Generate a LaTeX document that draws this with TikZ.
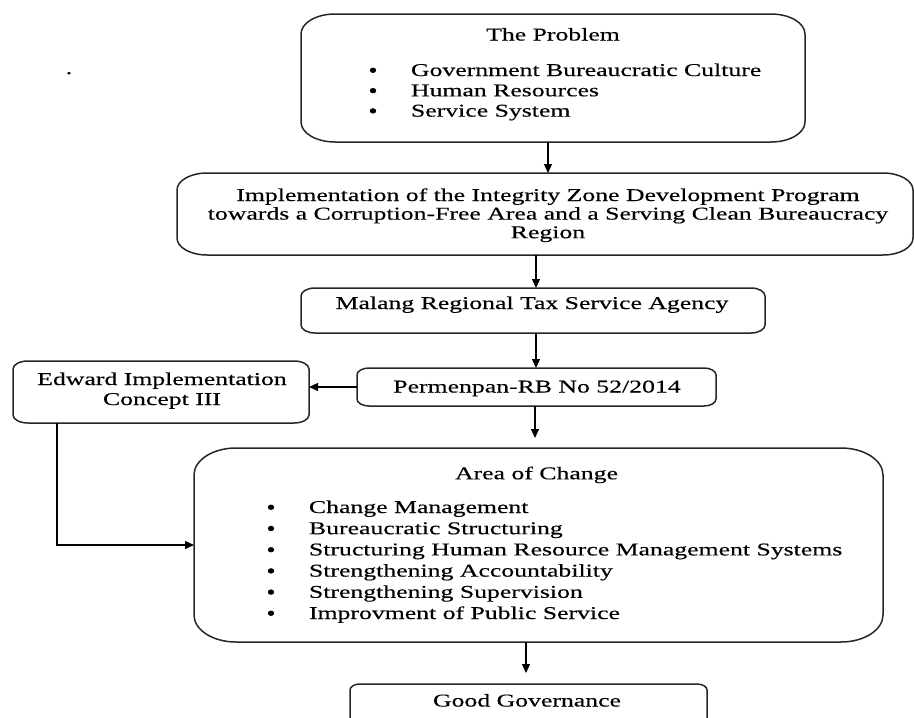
\documentclass[tikz,border=0pt]{standalone}
\usepackage{fontspec}
\setmainfont{Liberation Serif}[FakeStretch=1.43,FakeBold=0.3]
\usetikzlibrary{arrows.meta,fit}
\newcommand\itm{\makebox[20pt]{\tikz[baseline=0pt]\fill (0pt,5.7pt) ellipse[x radius=3.2pt,y radius=2.7pt];}\hspace{28pt}}
\newcommand\roundbox[3]{\draw[boxline] ([xshift=#2pt]#1.north west) -- ([xshift=-#2pt]#1.north east) arc[start angle=90,end angle=0,x radius=#2pt,y radius=#3pt] -- ([yshift=#3pt]#1.south east) arc[start angle=0,end angle=-90,x radius=#2pt,y radius=#3pt] -- ([xshift=#2pt]#1.south west) arc[start angle=-90,end angle=-180,x radius=#2pt,y radius=#3pt] -- ([yshift=-#3pt]#1.north west) arc[start angle=180,end angle=90,x radius=#2pt,y radius=#3pt] -- cycle;}
\tikzset{
  frame/.style={inner sep=0pt, outer sep=0pt, draw=none},
  boxline/.style={draw=black!85, line width=1.5pt},
  txt/.style={inner sep=0pt, outer sep=0pt, font=\fontsize{18}{20.3}\selectfont},
  arr/.style={draw=black, line width=1.2pt, -{Triangle[length=9pt,width=8pt]}}
}
\begin{document}
\begin{tikzpicture}[x=1pt,y=-1pt]
\clip (0,0) rectangle (914,718);
\fill[white] (0,0) rectangle (914,718);
% boxes
\node[frame, fit={(301,14) (805,142)}] (prob) {};
\node[frame, fit={(177,173) (913,255)}] (impl) {};
\node[frame, fit={(301,288) (765,333)}] (malang) {};
\node[frame, fit={(357,368) (716,406)}] (permen) {};
\node[frame, fit={(13,361) (309,423)}] (edward) {};
\node[frame, fit={(194,448) (883,642)}] (area) {};
\node[frame, fit={(350,684) (707,740)}] (good) {};
\roundbox{prob}{34}{20}
\roundbox{impl}{30}{17}
\roundbox{malang}{14}{8}
\roundbox{permen}{12}{7}
\roundbox{edward}{15}{8}
\roundbox{area}{42}{27}
\roundbox{good}{10}{6}
% texts
\node[txt, anchor=base] (dot) at (69,74) {.};
\node[txt, anchor=base] (probt) at (553,40.5) {The Problem};
\node[txt, anchor=base west] (probl) at (363,76) {\begin{tabular}[t]{@{}l@{}}\itm Government Bureaucratic Culture\\ \itm Human Resources\\ \itm Service System\end{tabular}};
\node[txt, anchor=base, font=\fontsize{18}{18.6}\selectfont] (implt) at (548,201) {\begin{tabular}[t]{@{}c@{}}Implementation of the Integrity Zone Development Program\\ towards a Corruption-Free Area and a Serving Clean Bureaucracy\\ Region\end{tabular}};
\node[txt, anchor=base] (malangt) at (532,309) {Malang Regional Tax Service Agency};
\node[txt, anchor=base] (permt) at (537,392.5) {Permenpan-RB No 52/2014};
\node[txt, anchor=base, font=\fontsize{18}{20}\selectfont] (edwt) at (162,385) {\begin{tabular}[t]{@{}c@{}}Edward Implementation\\ Concept III\end{tabular}};
\node[txt, anchor=base] (areat) at (536.5,479.3) {Area of Change};
\node[txt, anchor=base west, font=\fontsize{18}{21.2}\selectfont] (areal) at (261,513) {\begin{tabular}[t]{@{}l@{}}\itm Change Management\\ \itm Bureaucratic Structuring\\ \itm Structuring Human Resource Management Systems\\ \itm Strengthening Accountability\\ \itm Strengthening Supervision\\ \itm Improvment of Public Service\end{tabular}};
\node[txt, anchor=base] (goodt) at (527,706.5) {Good Governance};
% connectors
\coordinate (c1) at (548,0);
\coordinate (c2) at (536,0);
\coordinate (c3) at (535,0);
\coordinate (c4) at (526,0);
\draw[arr] (prob.south -| c1) -- (impl.north -| c1);
\draw[arr] (impl.south -| c2) -- (malang.north -| c2);
\draw[arr] (malang.south -| c2) -- (permen.north -| c2);
\draw[arr] (permen.west) -- (permen.west -| edward.east);
\draw[arr, shorten >=10pt] (permen.south -| c3) -- (area.north -| c3);
\draw[arr] ([xshift=44pt]edward.south west) |- (area.west);
\draw[arr, shorten >=11pt] (area.south -| c4) -- (good.north -| c4);
\end{tikzpicture}
\end{document}
